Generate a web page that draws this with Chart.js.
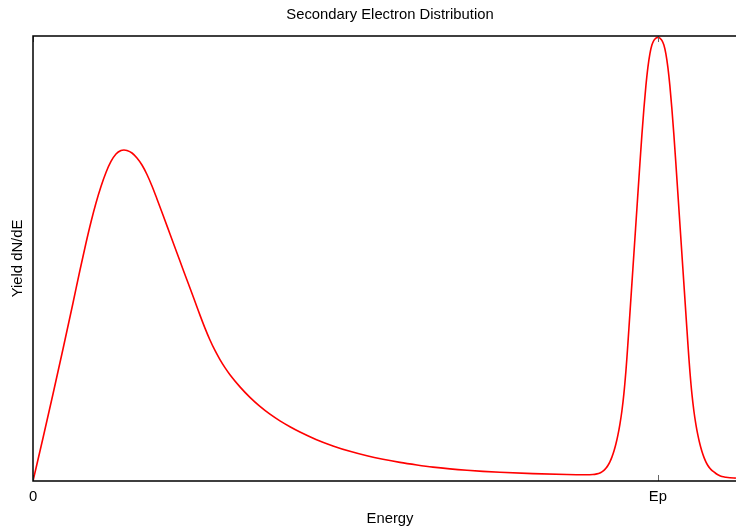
<!DOCTYPE html>
<html>
<head>
<meta charset="utf-8">
<script src="https://cdn.jsdelivr.net/npm/chart.js@4"></script>
<style>
html,body{margin:0;padding:0;background:#fff;}
#wrap{width:736px;height:529px;}
</style>
</head>
<body>
<div id="wrap"><canvas id="c" width="736" height="529"></canvas></div>
<script>
// Energy in units where Ep = 100; yield normalised to the elastic peak
const energy = [0, 1.6, 3.2, 4.8, 6.4, 7.52, 8.48, 9.28, 10.08, 10.88, 11.68, 12.48, 13.28, 14.08, 14.56, 15.04, 15.84, 16.64, 17.44, 18.24, 19.04, 19.84, 20.8, 21.92, 23.04, 24.16, 25.12, 26.24,
  26.72, 27.52, 28.32, 29.12, 29.92, 30.72, 31.52, 33.12, 34.72, 36.32, 37.92, 39.52, 41.12, 42.72, 45.28, 48.0, 50.72, 53.44, 56.0, 58.72, 61.44, 64.0, 66.72, 69.44, 72.0, 74.72, 80.0, 85.44, 88.32, 89.6, 90.24,
  90.72, 91.04, 91.36, 91.68, 92.0, 92.32, 92.64, 92.96, 93.28, 93.6, 93.92, 94.24, 94.56, 94.88, 95.04, 95.2, 95.36, 96.0, 96.64, 97.12, 97.44, 97.76, 98.08, 98.4, 98.72, 99.04, 99.36, 99.68, 100.0,
  100.32, 100.64, 100.96, 101.28, 101.6, 101.92, 102.24, 102.56, 102.88, 103.36, 104.0, 104.64, 104.8, 104.96, 105.12, 105.44, 105.76, 106.08, 106.4, 106.72, 107.04, 107.36, 107.68, 108.0, 108.32, 108.64, 108.96, 109.28, 109.76, 110.24, 110.88, 111.52, 112.48];
const yieldVals = [0, 0.0966, 0.1955, 0.2966, 0.4, 0.4742, 0.5348, 0.582, 0.6247, 0.6618, 0.6933, 0.718, 0.7348, 0.7427, 0.7438, 0.7427, 0.7371, 0.7258, 0.7101, 0.6888, 0.6629, 0.6337, 0.5978, 0.5551, 0.5124, 0.4697, 0.4337, 0.391,
  0.3728, 0.3436, 0.3169, 0.2933, 0.2728, 0.2548, 0.2389, 0.2115, 0.1879, 0.1676, 0.1501, 0.1351, 0.122, 0.1101, 0.0935, 0.0789, 0.0667, 0.0566, 0.0488, 0.0418, 0.036, 0.0312, 0.0272, 0.024, 0.0216, 0.0196, 0.0166, 0.0146, 0.0142, 0.0146, 0.016,
  0.018, 0.0204, 0.0239, 0.0287, 0.0349, 0.0431, 0.0536, 0.0667, 0.083, 0.103, 0.1273, 0.1573, 0.1962, 0.2465, 0.2764, 0.3088, 0.3422, 0.4771, 0.6119, 0.713, 0.7778, 0.8364, 0.8879, 0.9297, 0.96, 0.9796, 0.9903, 0.9954, 0.9969,
  0.9954, 0.9903, 0.9796, 0.96, 0.9297, 0.8879, 0.8364, 0.7778, 0.713, 0.6119, 0.4771, 0.3422, 0.3088, 0.2764, 0.2465, 0.1962, 0.1573, 0.1273, 0.103, 0.083, 0.0667, 0.0536, 0.0431, 0.0349, 0.0287, 0.0239, 0.0204, 0.0169, 0.0128, 0.0101, 0.0083, 0.0072, 0.0065];
const tickValues = [0, 100];
const tickLabels = ["0", "Ep"];
const chartTitle = 'Secondary Electron Distribution';
const xTitle = 'Energy';
const yTitle = 'Yield dN/dE';

const FONT = "'Liberation Sans', Arial, sans-serif";
const FS = 14.8;

const framePlugin = {
  id: 'frame',
  afterDatasetsDraw(chart) {
    const {ctx, chartArea: a} = chart;
    const xs = chart.scales.x;
    ctx.save();
    ctx.strokeStyle = '#666';
    ctx.lineWidth = 1;
    tickValues.forEach(v => {
      const px = Math.round(xs.getPixelForValue(v)) + 0.5;
      ctx.beginPath();
      ctx.moveTo(px, a.bottom); ctx.lineTo(px, a.bottom - 6);
      ctx.moveTo(px, a.top); ctx.lineTo(px, a.top + 6);
      ctx.stroke();
    });
    ctx.strokeStyle = '#000';
    ctx.lineWidth = 1.5;
    ctx.beginPath();
    ctx.moveTo(a.right + 2, a.top);
    ctx.lineTo(a.left, a.top);
    ctx.lineTo(a.left, a.bottom);
    ctx.lineTo(a.right + 2, a.bottom);
    ctx.stroke();
    const cx = (a.left + a.right) / 2 + 5.5;
    ctx.fillStyle = '#000';
    ctx.font = FS + 'px ' + FONT;
    ctx.textAlign = 'center';
    ctx.textBaseline = 'middle';
    ctx.fillText(chartTitle, cx, 15);
    ctx.fillText(xTitle, cx, 519);
    ctx.restore();
  }
};

new Chart(document.getElementById('c'), {
  type: 'line',
  data: {
    datasets: [{
      data: energy.map((e, i) => ({x: e, y: yieldVals[i]})),
      borderColor: '#ff0000',
      borderWidth: 1.6,
      pointRadius: 0,
      fill: false,
      cubicInterpolationMode: 'monotone'
    }]
  },
  options: {
    responsive: false,
    animation: false,
    layout: {padding: {left: 0, right: 0, top: 36, bottom: 0}},
    plugins: {
      legend: {display: false},
      tooltip: {enabled: false},
      title: {display: false}
    },
    scales: {
      x: {
        type: 'linear',
        min: 0,
        max: 112.5,
        afterBuildTicks: s => { s.ticks = tickValues.map(v => ({value: v})); },
        afterFit: s => { s.height = 48; },
        ticks: {
          callback: (v) => { const i = tickValues.indexOf(v); return i >= 0 ? tickLabels[i] : ''; },
          color: '#000',
          font: {family: FONT, size: FS},
          padding: 7,
          maxRotation: 0,
          autoSkip: false
        },
        grid: {display: false, drawTicks: false},
        border: {display: false},
        title: {display: false}
      },
      y: {
        min: 0,
        max: 1.0,
        afterFit: s => { s.width = 33; },
        ticks: {display: false},
        grid: {display: false, drawTicks: false},
        border: {display: false},
        title: {
          display: true,
          text: yTitle,
          color: '#000',
          font: {family: FONT, size: FS},
          padding: {top: 9, bottom: 0}
        }
      }
    }
  },
  plugins: [framePlugin]
});
</script>
</body>
</html>
